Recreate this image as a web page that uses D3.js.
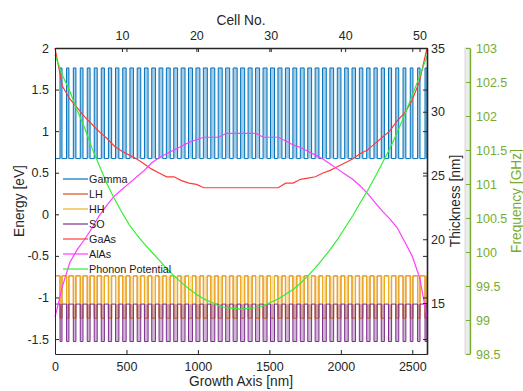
<!DOCTYPE html>
<html>
<head>
<meta charset="utf-8">
<script src="https://cdn.jsdelivr.net/npm/d3@7"></script>
<style>
  body { margin: 0; background: #fff; }
  svg text { font-family: "Liberation Sans", Arial, sans-serif; }
</style>
</head>
<body>
<svg id="chart" width="523" height="391"></svg>
<script>
const gaasThk = [35.0, 32.0, 31.0, 30.3, 29.6, 29.0, 28.4, 27.9, 27.3, 26.9,
  26.6, 26.3, 25.9, 25.5, 25.2, 24.9, 24.9, 24.6, 24.4, 24.3,
  24.04, 24.04, 24.04, 24.04, 24.04, 24.04, 24.04, 24.04, 24.04, 24.04, 24.04,
  24.4, 24.4, 24.7, 24.8, 24.9, 25.2, 25.4, 25.7, 26.0,
  26.3, 26.7, 27.0, 27.5, 28.0, 28.5, 29.3, 29.9, 30.9, 32.4, 35.0];
const alasThk = [13.9, 16.3, 18.2, 19.2, 20.0, 20.9, 21.9, 22.7, 23.4, 23.9,
  24.4, 24.9, 25.4, 26.0, 26.4, 26.7, 27.0, 27.3, 27.6, 27.8,
  28.0, 28.0, 28.0, 28.3, 28.3, 28.3, 28.3, 28.3, 28.0, 28.0, 28.0,
  27.7, 27.4, 27.2, 26.9, 26.6, 26.3, 25.9, 25.5, 25.1,
  24.7, 24.2, 23.6, 22.9, 22.2, 21.6, 20.9, 19.8, 18.7, 17.0, 13.9];
// phonon potential per cell [GHz]
const phononFreq = [102.90, 102.60, 102.36, 102.08, 101.82, 101.52, 101.26, 101.00, 100.78, 100.58,
  100.40, 100.25, 100.12, 100.00, 99.88, 99.76, 99.65, 99.55, 99.46, 99.38,
  99.31, 99.26, 99.21, 99.18, 99.17, 99.16,
  99.17, 99.18, 99.21, 99.26, 99.31, 99.38, 99.45, 99.54, 99.65, 99.77,
  99.90, 100.04, 100.19, 100.36, 100.53, 100.72, 100.90, 101.10, 101.31, 101.52,
  101.76, 102.02, 102.30, 102.58, 102.88];

// band edges [eV]: GaAs (well) / AlAs (barrier)
const bandNames = ["Gamma", "LH", "HH", "SO"];
const bandColors = ["#0072BD", "#D95319", "#EDB120", "#7E2F8E"];
const wellEnergy = [0.67, -0.74, -0.74, -1.08];
const barrierEnergy = [1.76, -1.25, -1.25, -1.53];
const bandFill = [true, false, true, true];

const energyTicks = [-1.5, -1, -0.5, 0, 0.5, 1, 1.5, 2];
const growthTicks = [0, 500, 1000, 1500, 2000, 2500];
const cellTicks = [10, 20, 30, 40, 50];
const thkTicks = [15, 20, 25, 30, 35];
const freqTicks = [98.5, 99, 99.5, 100, 100.5, 101, 101.5, 102, 102.5, 103];

const legendNames = ["Gamma", "LH", "HH", "SO", "GaAs", "AlAs", "Phonon Potential"];
const legendColors = ["#0072BD", "#D95319", "#EDB120", "#7E2F8E", "#ff3c3c", "#ff3cff", "#33ee33"];

const mLeft = 55, mRight = 427, mTop = 48, mBottom = 354;
const axisColor = "#262626";
const svg = d3.select("#chart");

const cells = gaasThk.map((d, i) => i + 1);
const total = d3.sum(gaasThk) + d3.sum(alasThk);

const x = d3.scaleLinear().domain([0, total]).range([mLeft, mRight]);
const xCell = d3.scaleLinear().domain([1, 51]).range([mLeft, mRight]);
const yE = d3.scaleLinear().domain([-1.68, 2]).range([mBottom, mTop]);
const yT = d3.scaleLinear().domain([11, 35]).range([mBottom, mTop]);
const yF = d3.scaleLinear().domain([98.5, 103]).range([mBottom, mTop]);

// band profiles along growth axis
const plot = svg.append("g");
bandNames.forEach((name, b) => {
  const pts = [[0, wellEnergy[b]]];
  const bars = [];
  let pos = 0;
  gaasThk.forEach((g, i) => {
    pos += g;
    pts.push([pos, wellEnergy[b]], [pos, barrierEnergy[b]]);
    bars.push([pos, pos + alasThk[i]]);
    pos += alasThk[i];
    pts.push([pos, barrierEnergy[b]], [pos, wellEnergy[b]]);
  });
  if (bandFill[b]) {
    plot.append("g").selectAll("rect").data(bars).enter().append("rect")
      .attr("x", d => x(d[0]))
      .attr("width", d => x(d[1]) - x(d[0]))
      .attr("y", yE(Math.max(wellEnergy[b], barrierEnergy[b])))
      .attr("height", Math.abs(yE(wellEnergy[b]) - yE(barrierEnergy[b])))
      .attr("fill", bandColors[b])
      .attr("fill-opacity", 0.36);
  }
  plot.append("path")
    .datum(pts)
    .attr("d", d3.line().x(d => x(d[0])).y(d => yE(d[1])))
    .attr("fill", "none")
    .attr("stroke", bandColors[b])
    .attr("stroke-width", 1);
});

// thickness curves against cell number
const thkLine = d3.line().x((d, i) => xCell(cells[i])).y(d => yT(d));
plot.append("path").datum(gaasThk).attr("d", thkLine)
  .attr("fill", "none").attr("stroke", legendColors[4]).attr("stroke-width", 1.2);
plot.append("path").datum(alasThk).attr("d", thkLine)
  .attr("fill", "none").attr("stroke", legendColors[5]).attr("stroke-width", 1.2);
plot.append("path").datum(phononFreq)
  .attr("d", d3.line().x((d, i) => xCell(cells[i])).y(d => yF(d)))
  .attr("fill", "none").attr("stroke", legendColors[6]).attr("stroke-width", 1.2);

// axes
function styleAxis(g, size, color) {
  g.selectAll("text").attr("font-size", size).attr("fill", color || axisColor);
  g.selectAll("line").attr("stroke", color || axisColor);
  g.selectAll(".domain").attr("stroke", color || axisColor);
}
const fmt = d => String(d);

svg.append("g").attr("transform", `translate(0,${mBottom})`)
  .call(d3.axisBottom(x).tickValues(growthTicks).tickFormat(fmt)
    .tickSizeInner(-4).tickSizeOuter(0).tickPadding(8))
  .call(g => styleAxis(g, 12.5));
svg.append("g").attr("transform", `translate(${mLeft},0)`)
  .call(d3.axisLeft(yE).tickValues(energyTicks).tickFormat(fmt)
    .tickSizeInner(-4).tickSizeOuter(0).tickPadding(6))
  .call(g => styleAxis(g, 12.5));
svg.append("g").attr("transform", `translate(0,${mTop})`)
  .call(d3.axisTop(x).tickValues(growthTicks).tickFormat("")
    .tickSizeInner(-4).tickSizeOuter(0))
  .call(g => styleAxis(g, 12.5));
svg.append("g").attr("transform", `translate(0,${mTop})`)
  .call(d3.axisTop(xCell).tickValues(cellTicks).tickFormat(fmt)
    .tickSizeInner(-4).tickSizeOuter(0).tickPadding(8))
  .call(g => styleAxis(g, 12.5))
  .call(g => g.select(".domain").attr("stroke-width", 1.6));
svg.append("g").attr("transform", `translate(${mRight},0)`)
  .call(d3.axisRight(yE).tickValues(energyTicks).tickFormat("")
    .tickSizeInner(-4).tickSizeOuter(0))
  .call(g => styleAxis(g, 12.5));
svg.append("g").attr("transform", `translate(${mRight},0)`)
  .call(d3.axisRight(yT).tickValues(thkTicks).tickFormat(fmt)
    .tickSizeInner(-4).tickSizeOuter(0).tickPadding(4))
  .call(g => styleAxis(g, 12.5))
  .call(g => g.select(".domain").attr("stroke-width", 1.6));

// frequency axis strip
const fx = 470;
svg.append("rect").attr("x", fx - 5).attr("y", mTop).attr("width", 5)
  .attr("height", mBottom - mTop).attr("fill", "#ececec").attr("stroke", "#d0d0d0").attr("stroke-width", 0.8);
svg.append("g").attr("transform", `translate(${fx},0)`)
  .call(d3.axisRight(yF).tickValues(freqTicks).tickFormat(fmt)
    .tickSizeInner(-4).tickSizeOuter(0).tickPadding(6))
  .call(g => styleAxis(g, 12.5, "#77AC30"))
  .call(g => g.select(".domain").attr("stroke-width", 1.4));

// axis titles
const midX = (mLeft + mRight) / 2, midY = (mTop + mBottom) / 2;
svg.append("text").attr("x", midX).attr("y", 20).attr("text-anchor", "middle")
  .attr("dominant-baseline", "central").attr("font-size", 13.75).attr("fill", axisColor).text("Cell No.");
svg.append("text").attr("x", midX).attr("y", 381).attr("text-anchor", "middle")
  .attr("dominant-baseline", "central").attr("font-size", 13.75).attr("fill", axisColor).text("Growth Axis [nm]");
svg.append("text").attr("transform", `translate(19,${midY}) rotate(-90)`).attr("text-anchor", "middle")
  .attr("dominant-baseline", "central").attr("font-size", 13.75).attr("fill", axisColor).text("Energy [eV]");
svg.append("text").attr("transform", `translate(455,${midY}) rotate(-90)`).attr("text-anchor", "middle")
  .attr("dominant-baseline", "central").attr("font-size", 13.75).attr("fill", axisColor).text("Thickness [nm]");
svg.append("text").attr("transform", `translate(516,${midY}) rotate(-90)`).attr("text-anchor", "middle")
  .attr("dominant-baseline", "central").attr("font-size", 13.75).attr("fill", "#77AC30").text("Frequency [GHz]");

// legend
const legend = svg.append("g").attr("transform", "translate(63,179)");
legendNames.forEach((name, i) => {
  const row = legend.append("g").attr("transform", `translate(0,${i * 15})`);
  row.append("line").attr("x1", 0).attr("x2", 25).attr("y1", 0).attr("y2", 0)
    .attr("stroke", legendColors[i]).attr("stroke-width", 1.2);
  row.append("text").attr("x", 26).attr("y", 0).attr("dominant-baseline", "central")
    .attr("font-size", 10.8).attr("fill", "#1a1a1a").text(name);
});
</script>
</body>
</html>
